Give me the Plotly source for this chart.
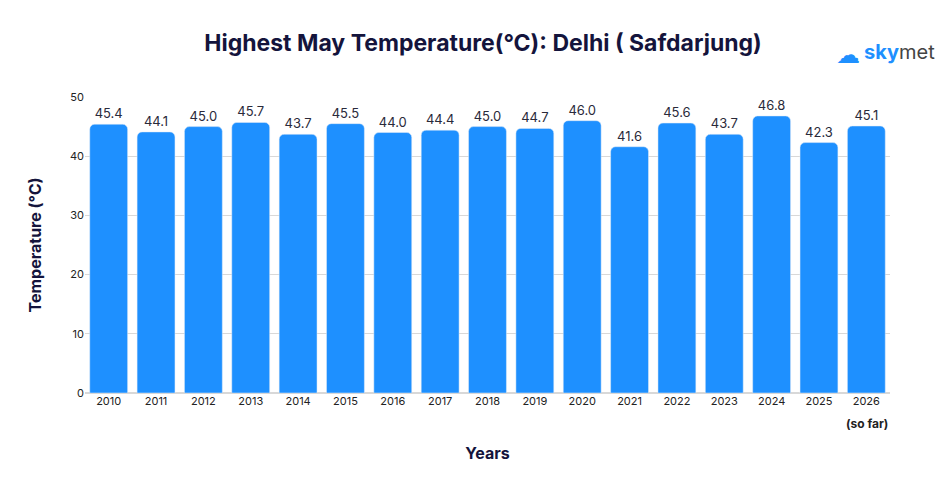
import plotly.graph_objects as go

years = ["2010", "2011", "2012", "2013", "2014", "2015", "2016", "2017", "2018",
         "2019", "2020", "2021", "2022", "2023", "2024", "2025", "2026"]
temps = [45.4, 44.1, 45.0, 45.7, 43.7, 45.5, 44.0, 44.4, 45.0,
         44.7, 46.0, 41.6, 45.6, 43.7, 46.8, 42.3, 45.1]

fig = go.Figure()
fig.add_trace(go.Bar(
    x=years, y=temps,
    marker=dict(color="#1e90ff", cornerradius=5),
    text=[f"{v:.1f}" for v in temps], textposition="outside",
    textfont=dict(family="Inter, Roboto", size=13, color="#2a2a3a"),
    cliponaxis=False,
))

fig.update_layout(
    width=950, height=500,
    margin=dict(l=77, r=68, t=89, b=115),
    plot_bgcolor="white", paper_bgcolor="white",
    bargap=0.2, showlegend=False,
    font=dict(family="Inter, Roboto", color="#1a1a3a"),
    title=dict(text="<b>Highest May Temperature(°C): Delhi ( Safdarjung)</b>",
               x=0.5, xanchor="center", y=0.93, yanchor="middle",
               font=dict(size=23, color="#14143c")),
    xaxis=dict(tickfont=dict(size=11, color="#222"), showline=False,
               title=dict(text="<b>Years</b>", font=dict(size=16, color="#14143c"), standoff=40)),
    yaxis=dict(range=[0, 50], dtick=10, gridcolor="#d8d8d8", zeroline=True,
               zerolinecolor="#d8d8d8", tickfont=dict(size=11, color="#222"),
               title=dict(text="<b>Temperature (°C)</b>", font=dict(size=16, color="#14143c"), standoff=24)),
)

fig.add_annotation(text="<b>(so far)</b>", xref="paper", yref="paper", x=1.0, y=-0.135,
                   xanchor="right", showarrow=False, font=dict(size=12, color="#222"))
fig.add_annotation(text="<b><span style='color:#1e90ff'>sky</span></b><span style='color:#444'>met</span>",
                   xref="paper", yref="paper", x=1.058, y=1.2, xanchor="right",
                   showarrow=False, font=dict(size=20))
fig.add_annotation(text="☁", xref="paper", yref="paper", x=0.965, y=1.2,
                   xanchor="right", showarrow=False, font=dict(size=24, color="#1e90ff"))

fig.write_html("out.html")
